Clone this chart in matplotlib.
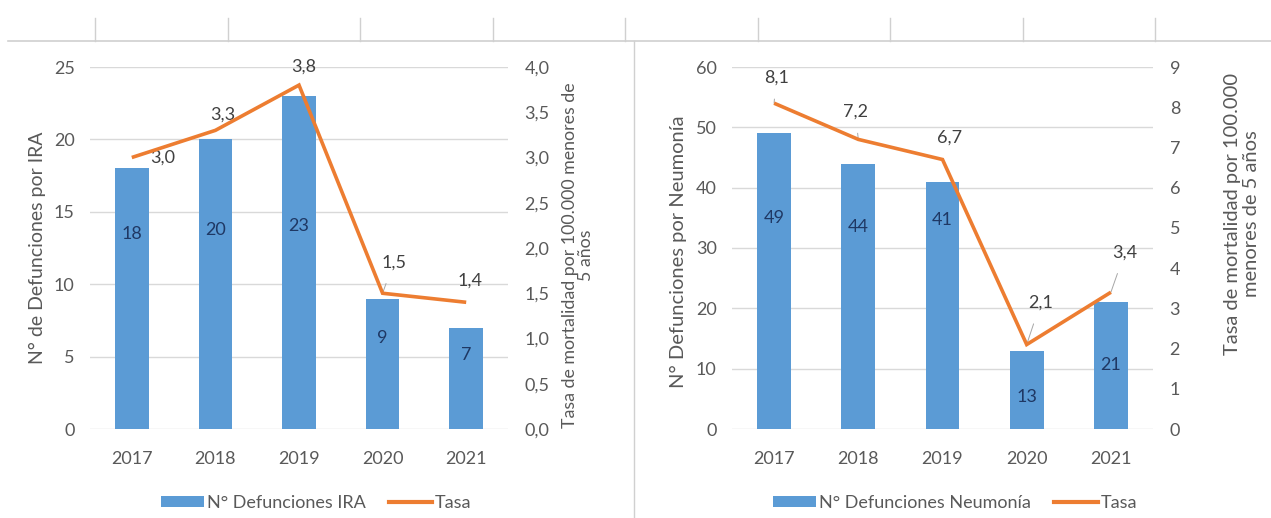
import matplotlib
matplotlib.use("Agg")
import matplotlib.pyplot as plt
from matplotlib.lines import Line2D
from matplotlib.patches import Patch
from matplotlib.ticker import FuncFormatter, MultipleLocator

# ---------------- data ----------------
years = ["2017", "2018", "2019", "2020", "2021"]
ira_deaths = [18, 20, 23, 9, 7]
ira_rate = [3.0, 3.3, 3.8, 1.5, 1.4]
neu_deaths = [49, 44, 41, 13, 21]
neu_rate = [8.1, 7.2, 6.7, 2.1, 3.4]

# label placement (data units for bar labels, pixel offsets for rate labels)
ira_bar_lbl_y = [13.5, 13.75, 14.0, 6.3, 5.1]
neu_bar_lbl_y = [35.0, 33.5, 34.7, 5.3, 10.6]
ira_rate_off = [(31, 0), (7, 16), (5, 18), (11, 31), (4, 22)]
ira_leader = [False, False, False, True, False]
neu_rate_off = [(2, 26), (-3, 28), (7, 22), (14, 42), (14, 40)]
neu_leader = [True, True, True, True, True]

BLUE = "#5B9BD5"
ORANGE = "#ED7D31"
GRID = "#D9D9D9"
TXT = "#595959"
NAVY = "#1F3864"
DARK = "#404040"
FS = 13

plt.rcParams["font.family"] = ["Lato", "DejaVu Sans"]

W, H = 1271, 518
fig = plt.figure(figsize=(W / 100, H / 100), dpi=100)


def rect(x0, x1, ytop, ybot):
    return [x0 / W, 1 - ybot / H, (x1 - x0) / W, (ybot - ytop) / H]


def comma(fmt):
    return FuncFormatter(lambda v, p: fmt.format(v).replace(".", ","))


def panel(r, deaths, rate, bar_lbl_y, rate_off, leader, ymax, ystep, rmax, rstep,
          rfmt, ylabel, ylfs, yl_cy, rlabel, rlfs, rls, rl_cy, ylab_px, rlab_px,
          legend_label, leg_x):
    ax = fig.add_axes(r)
    x0px = r[0] * W
    wpx = r[2] * W
    ytop = (1 - r[1] - r[3]) * H
    hpx = r[3] * H
    x = list(range(len(years)))
    ax.bar(x, deaths, width=0.4, color=BLUE, zorder=2)
    ax.set_xlim(-0.5, len(years) - 0.5)
    ax.set_ylim(0, ymax)
    ax.yaxis.set_major_locator(MultipleLocator(ystep))
    ax.set_xticks(x)
    ax.set_xticklabels(years)
    ax.yaxis.grid(True, color=GRID, lw=1, zorder=0)
    ax.set_axisbelow(True)
    for s in ax.spines.values():
        s.set_visible(False)
    ax.tick_params(length=0, labelsize=FS, colors=TXT)
    ax.tick_params(axis="y", pad=11)
    ax.tick_params(axis="x", pad=16)
    for xi, v, ly in zip(x, deaths, bar_lbl_y):
        ax.text(xi, ly, str(v), ha="center", va="center", fontsize=FS,
                color=NAVY, zorder=3)
    ax.set_ylabel(ylabel, fontsize=ylfs, color=TXT, va="center")
    ax.yaxis.set_label_coords((ylab_px - x0px) / wpx, 1 - (yl_cy - ytop) / hpx)

    ax2 = ax.twinx()
    ax2.plot(x, rate, color=ORANGE, lw=2.6, solid_capstyle="butt",
             solid_joinstyle="miter", zorder=4)
    ax2.set_ylim(0, rmax)
    ax2.yaxis.set_major_locator(MultipleLocator(rstep))
    ax2.yaxis.set_major_formatter(comma(rfmt))
    for s in ax2.spines.values():
        s.set_visible(False)
    ax2.tick_params(length=0, labelsize=FS, colors=TXT, pad=12)
    ax2.set_ylabel(rlabel, fontsize=rlfs, color=TXT, rotation=90,
                   ha="center", va="center", linespacing=rls)
    ax2.yaxis.set_label_coords((rlab_px - x0px) / wpx, 1 - (rl_cy - ytop) / hpx)
    for xi, v, off, ld in zip(x, rate, rate_off, leader):
        lab = "{:.1f}".format(v).replace(".", ",")
        if ld:
            ax2.annotate(lab, xy=(xi, v), xytext=off, textcoords="offset pixels",
                         ha="center", va="center", fontsize=FS, color=DARK,
                         arrowprops=dict(arrowstyle="-", color="#A6A6A6", lw=0.7,
                                         shrinkA=8, shrinkB=0))
        else:
            ax2.annotate(lab, xy=(xi, v), xytext=off, textcoords="offset pixels",
                         ha="center", va="center", fontsize=FS, color=DARK)

    handles = [Patch(facecolor=BLUE, edgecolor="none"),
               Line2D([0], [0], color=ORANGE, lw=3)]
    fig.legend(handles, [legend_label, "Tasa"], loc="center", ncol=2,
               bbox_to_anchor=(leg_x / W, 1 - 503 / H), frameon=False,
               fontsize=FS, labelcolor=TXT, handlelength=2.4, handleheight=0.6,
               handletextpad=0.15, columnspacing=1.3)
    return ax, ax2


panel(rect(90, 508, 67, 429), ira_deaths, ira_rate, ira_bar_lbl_y, ira_rate_off,
      ira_leader, 25, 5, 4.0, 0.5, "{:.1f}", "N° de Defunciones por IRA", 14, 248,
      "Tasa de mortalidad por 100.000 menores de\n5 años", 12.8, 1.05, 255,
      37, 578, "N° Defunciones IRA", 316)

panel(rect(732, 1153, 67, 429), neu_deaths, neu_rate, neu_bar_lbl_y, neu_rate_off,
      neu_leader, 60, 10, 9, 1, "{:.0f}", "N° Defunciones por Neumonía", 14.5, 252,
      "Tasa de mortalidad por 100.000\nmenores de 5 años", 14.5, 1.15, 214,
      678, 1242, "N° Defunciones Neumonía", 955)

# ---------- decorative page lines (table borders of the source screenshot) ----------
LC = "#D0D0D0"
fig.add_artist(Line2D([8 / W, 1.0], [1 - 41 / H, 1 - 41 / H], color=LC, lw=1.2,
                      transform=fig.transFigure))
for tx in [95, 228, 360, 493, 625, 758, 890, 1023, 1155]:
    fig.add_artist(Line2D([tx / W, tx / W], [1 - 41 / H, 1 - 18 / H], color=LC,
                          lw=1.0, transform=fig.transFigure))
fig.add_artist(Line2D([634 / W, 634 / W], [0, 1 - 41 / H], color=LC, lw=1.0,
                      transform=fig.transFigure))

fig.savefig("out.png", dpi=100, facecolor="white")
